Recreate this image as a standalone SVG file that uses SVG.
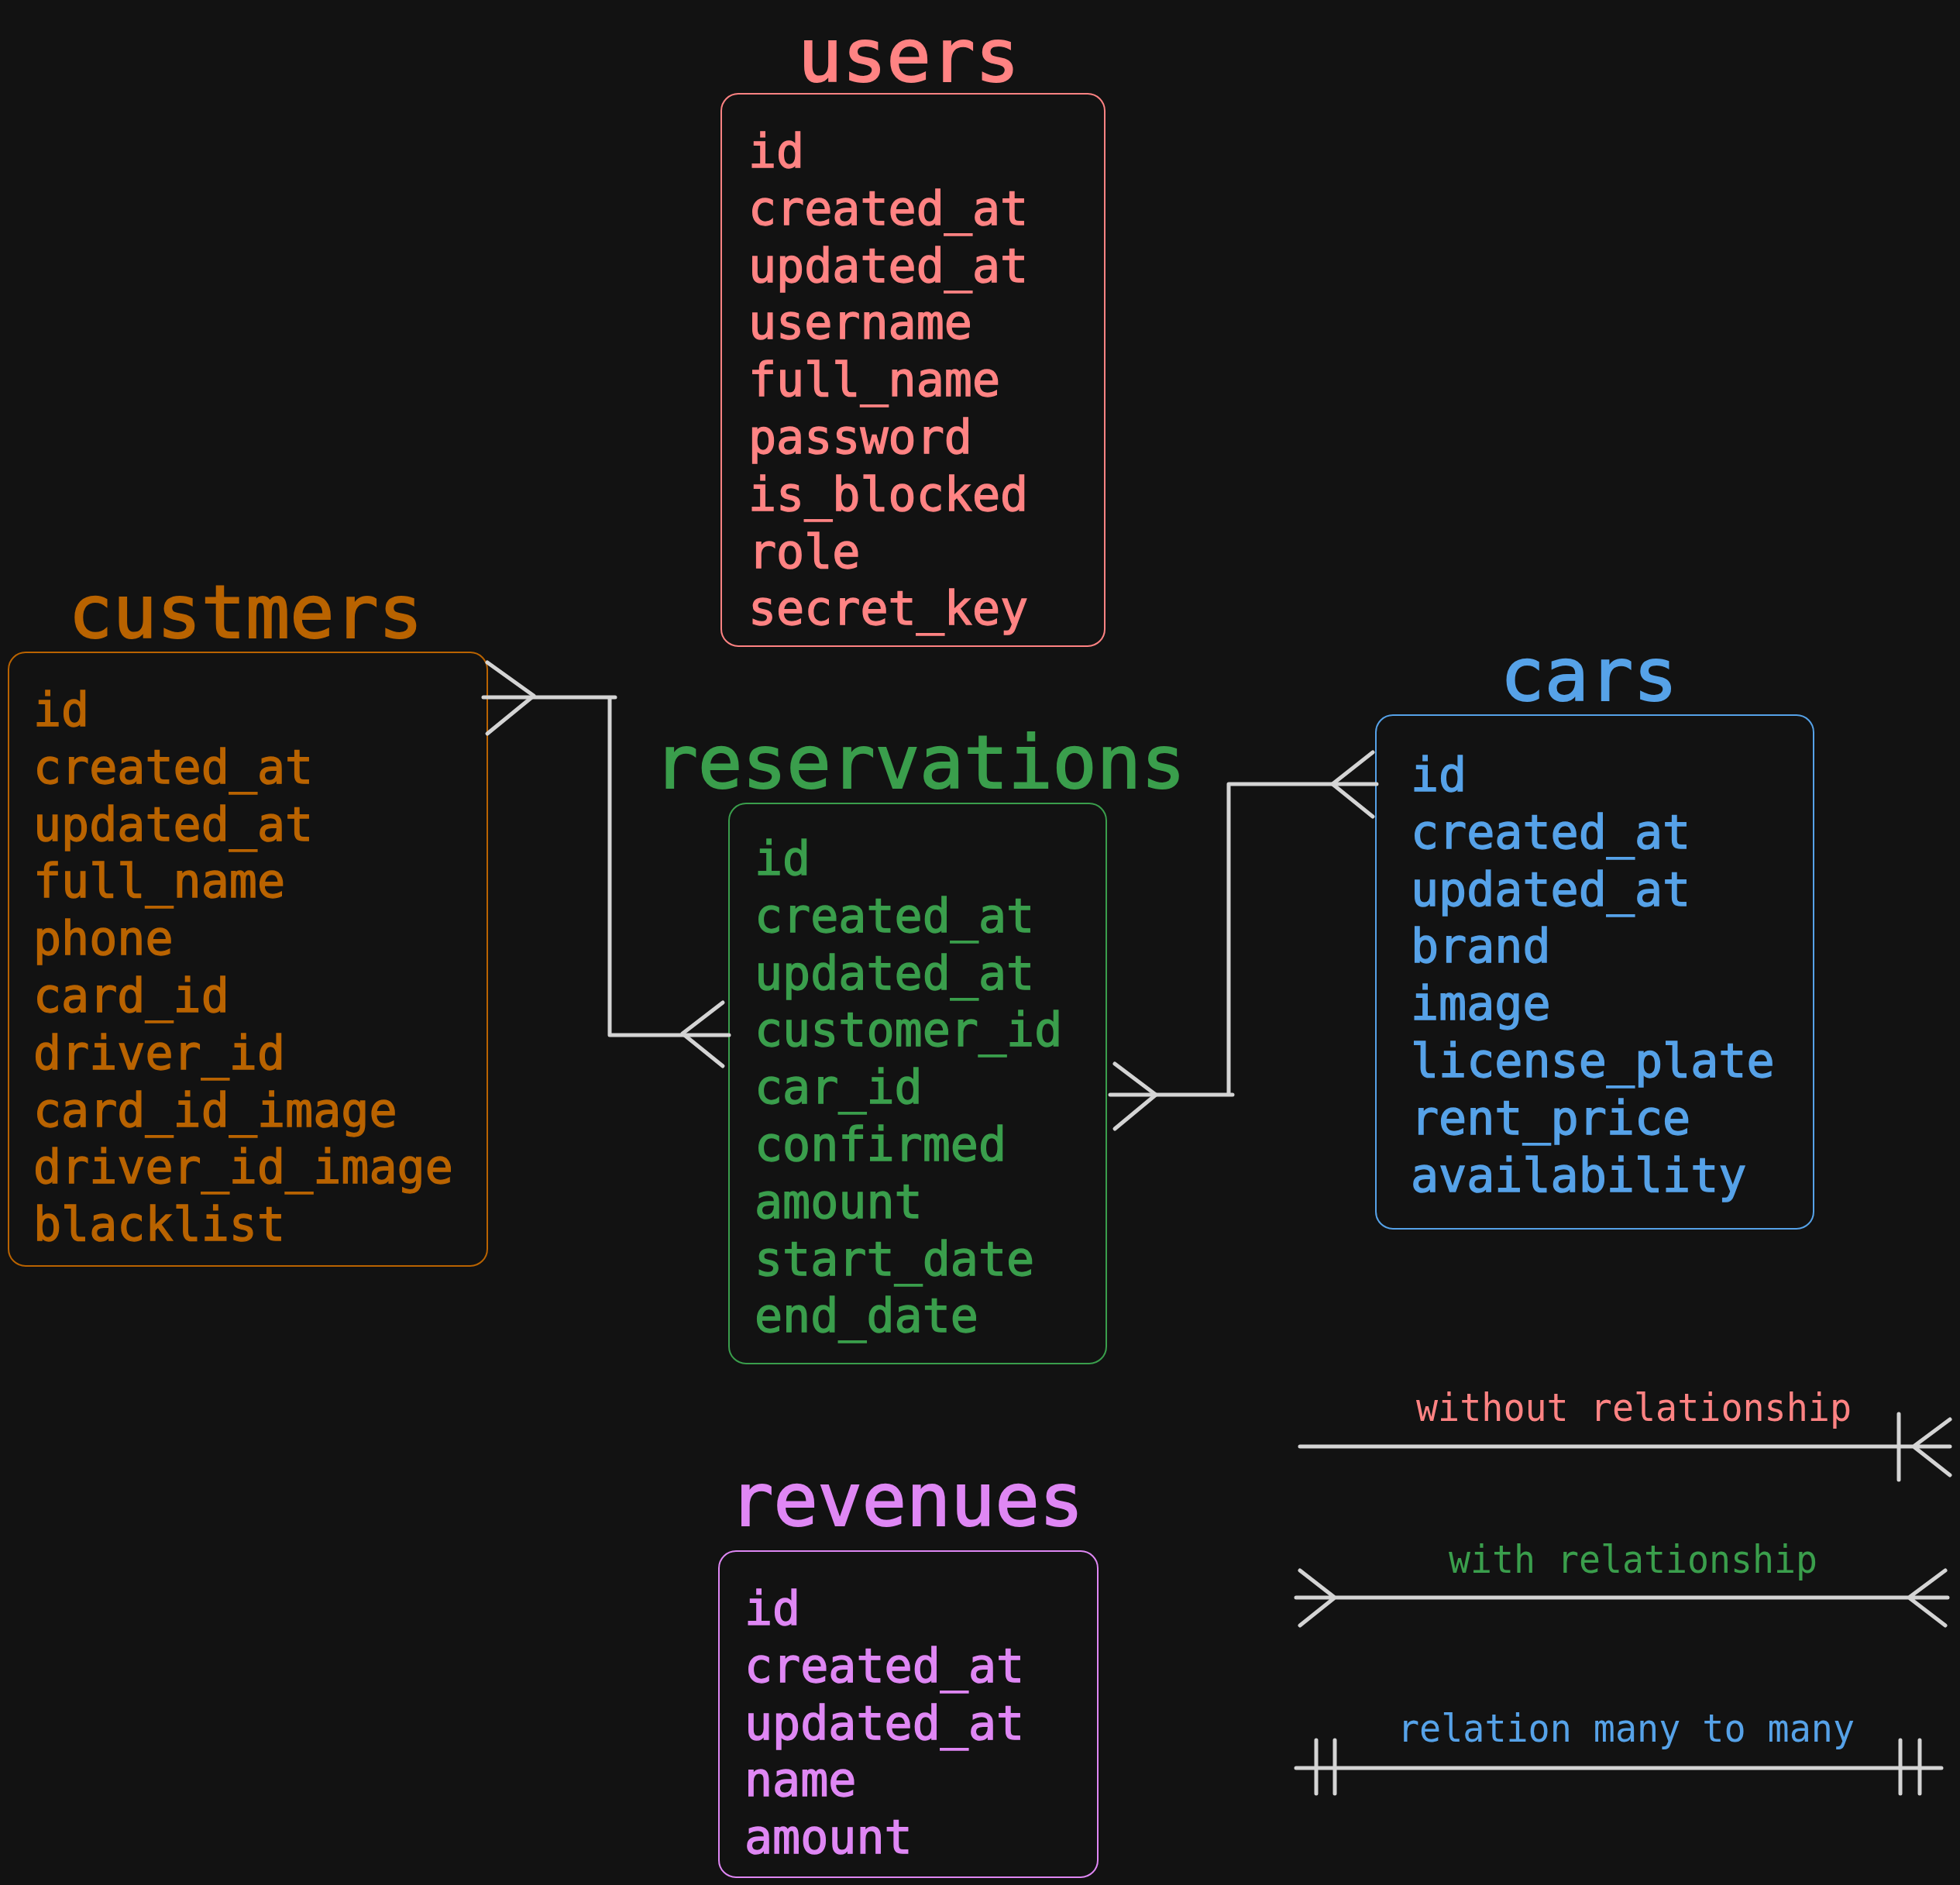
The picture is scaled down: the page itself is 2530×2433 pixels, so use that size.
<svg xmlns="http://www.w3.org/2000/svg" width="2530" height="2433" viewBox="0 0 2530 2433">
<style>
.title{font-family:"DejaVu Sans Mono",monospace;font-size:95px;text-anchor:middle;stroke-width:2}
.f{font-family:"DejaVu Sans Mono",monospace;font-size:60px;stroke-width:1.4}
.leg{font-family:"DejaVu Sans Mono",monospace;font-size:50px;text-anchor:middle}
.box{fill:#121212;stroke-width:2}
.c{fill:none;stroke:#d4d4d4;stroke-width:5;stroke-linecap:round;stroke-linejoin:round}
.red{fill:#ff8383}.org{fill:#b96300}.grn{fill:#3a9e4c}.blu{fill:#56a2e8}.pur{fill:#df87f4}
.title.red,.f.red{stroke:#ff8383}.title.org,.f.org{stroke:#b96300}.title.grn,.f.grn{stroke:#3a9e4c}.title.blu,.f.blu{stroke:#56a2e8}.title.pur,.f.pur{stroke:#df87f4}
</style>
<rect width="2530" height="2433" fill="#121212"/>

<g id="users">
<text class="title red" x="1173" y="105">users</text>
<rect class="box" x="931" y="121" width="495" height="713" rx="22" stroke="#ff8383"/>
<g class="f red">
<text x="966" y="216">id</text>
<text x="966" y="290">created_at</text>
<text x="966" y="364">updated_at</text>
<text x="966" y="437">username</text>
<text x="966" y="511">full_name</text>
<text x="966" y="585">password</text>
<text x="966" y="659">is_blocked</text>
<text x="966" y="733">role</text>
<text x="966" y="806">secret_key</text>
</g>
</g>

<g id="customers">
<text class="title org" x="317" y="823">custmers</text>
<rect class="box" x="11" y="842" width="618" height="792" rx="22" stroke="#b96300"/>
<g class="f org">
<text x="43" y="937">id</text>
<text x="43" y="1011">created_at</text>
<text x="43" y="1085">updated_at</text>
<text x="43" y="1158">full_name</text>
<text x="43" y="1232">phone</text>
<text x="43" y="1306">card_id</text>
<text x="43" y="1380">driver_id</text>
<text x="43" y="1454">card_id_image</text>
<text x="43" y="1527">driver_id_image</text>
<text x="43" y="1601">blacklist</text>
</g>
</g>

<g id="reservations">
<text class="title grn" x="1187" y="1017">reservations</text>
<rect class="box" x="941" y="1037" width="487" height="723" rx="22" stroke="#3a9e4c"/>
<g class="f grn">
<text x="974" y="1129">id</text>
<text x="974" y="1203">created_at</text>
<text x="974" y="1277">updated_at</text>
<text x="974" y="1350">customer_id</text>
<text x="974" y="1424">car_id</text>
<text x="974" y="1498">confirmed</text>
<text x="974" y="1572">amount</text>
<text x="974" y="1646">start_date</text>
<text x="974" y="1719">end_date</text>
</g>
</g>

<g id="cars">
<text class="title blu" x="2051" y="904">cars</text>
<rect class="box" x="1776" y="923" width="565" height="663" rx="22" stroke="#56a2e8"/>
<g class="f blu">
<text x="1821" y="1021">id</text>
<text x="1821" y="1095">created_at</text>
<text x="1821" y="1169">updated_at</text>
<text x="1821" y="1242">brand</text>
<text x="1821" y="1316">image</text>
<text x="1821" y="1390">license_plate</text>
<text x="1821" y="1464">rent_price</text>
<text x="1821" y="1538">availability</text>
</g>
</g>

<g id="revenues">
<text class="title pur" x="1170" y="1969">revenues</text>
<rect class="box" x="928" y="2002" width="489" height="421" rx="22" stroke="#df87f4"/>
<g class="f pur">
<text x="961" y="2097">id</text>
<text x="961" y="2171">created_at</text>
<text x="961" y="2245">updated_at</text>
<text x="961" y="2318">name</text>
<text x="961" y="2392">amount</text>
</g>
</g>

<g id="connectors">
<path class="c" d="M624 900 L794 900 M787 900 L787 1336 L941 1336"/>
<path class="c" d="M629 855 L689 898 L629 947"/>
<path class="c" d="M933 1294 L881 1334 L933 1376"/>
<path class="c" d="M1433 1413 L1591 1413 M1586 1413 L1586 1012 L1777 1012"/>
<path class="c" d="M1439 1373 L1492 1413 L1439 1457"/>
<path class="c" d="M1772 971 L1720 1012 L1772 1054"/>
</g>

<g id="legend">
<text class="leg red" x="2109" y="1834" textLength="562" lengthAdjust="spacingAndGlyphs">without relationship</text>
<path class="c" d="M1678 1867 L2517 1867 M2451 1825 L2451 1910 M2517 1832 L2470 1867 L2517 1904"/>
<text class="leg grn" x="2108" y="2030" textLength="476" lengthAdjust="spacingAndGlyphs">with relationship</text>
<path class="c" d="M1673 2062 L2514 2062 M1678 2027 L1723 2062 L1678 2098 M2511 2027 L2464 2062 L2511 2098"/>
<text class="leg blu" x="2099" y="2248" textLength="590" lengthAdjust="spacingAndGlyphs">relation many to many</text>
<path class="c" d="M1673 2282 L2506 2282 M1699 2246 L1699 2315 M1723 2246 L1723 2315 M2453 2246 L2453 2315 M2478 2246 L2478 2315"/>
</g>
</svg>
